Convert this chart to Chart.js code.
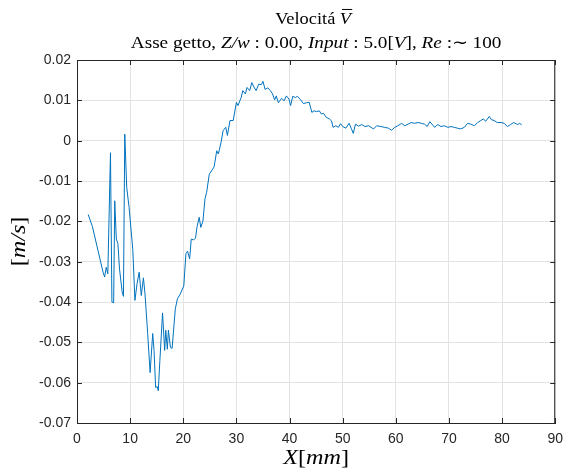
<!DOCTYPE html>
<html>
<head>
<meta charset="utf-8">
<script src="https://cdn.jsdelivr.net/npm/chart.js@4.4.0/dist/chart.umd.min.js"></script>
<style>
  body { margin: 0; background: #fff; }
  #wrap { width: 571px; height: 470px; }
</style>
</head>
<body>
<div id="wrap"><canvas id="chart"></canvas></div>
<script>
// X position along the jet axis [mm]
const xMm = [
    2.1, 2.9, 4.9, 5.2, 5.5, 5.8, 6.3, 6.57, 6.9, 7.1, 7.4, 7.7, 8.0, 8.5, 8.74, 8.99, 9.36, 9.8,
    10.5, 10.9, 11.3, 11.7, 12.1, 12.5, 12.8, 13.3, 13.76, 14.25, 14.5, 14.8, 15.1, 15.3, 15.6,
    16.1, 16.5, 16.7, 17.0, 17.2, 17.6, 17.9, 18.5, 18.9, 19.4, 20.1, 20.5, 20.8, 21.2, 21.5,
    21.9, 22.3, 22.6, 23.0, 23.3, 23.7, 24.1, 24.4, 24.9, 25.3, 25.8, 26.3, 26.6, 27.1, 27.5,
    28.0, 28.3, 28.8, 29.4, 30.0, 30.3, 30.9, 31.2, 31.7, 32.0, 32.5, 32.9, 33.3, 33.7, 34.2,
    34.7, 35.0, 35.4, 35.9, 36.4, 36.8, 37.2, 37.5, 37.9, 38.5, 39.0, 39.4, 39.9, 40.2, 40.6,
    41.1, 41.5, 42.1, 42.6, 43.2, 43.7, 44.2, 44.6, 45.1, 45.6, 46.0, 46.4, 46.9, 47.5, 47.9,
    48.2, 48.7, 49.2, 49.6, 50.0, 50.6, 51.2, 51.6, 52.0, 52.4, 53.0, 53.6, 54.2, 54.9, 55.8,
    56.4, 57.2, 57.9, 58.6, 59.2, 59.8, 60.4, 61.1, 61.7, 62.3, 62.9, 63.5, 64.2, 64.8, 65.4,
    65.9, 66.4, 66.8, 67.3, 67.9, 68.5, 69.1, 69.8, 70.4, 71.0, 71.6, 72.2, 72.9, 73.5, 74.1,
    74.8, 75.4, 76.0, 76.5, 76.9, 77.6, 78.0, 78.5, 79.1, 79.8, 80.4, 81.0, 81.6, 82.2, 82.9,
    83.3, 83.7
];
// mean velocity [m/s]
const vel = [
    -0.0183, -0.0213, -0.0326, -0.0338, -0.0314, -0.0330, -0.0030, -0.0400, -0.0402, -0.0149,
    -0.0244, -0.0255, -0.0318, -0.0375, -0.0386, 0.0016, -0.0116, -0.0165,
    -0.0270, -0.0396, -0.0355, -0.0326, -0.0384, -0.0340, -0.0380, -0.0478, -0.0575, -0.0478,
    -0.0520, -0.0612, -0.0610, -0.0620, -0.0545,
    -0.0427, -0.0520, -0.0470, -0.0517, -0.0470, -0.0513, -0.0515, -0.0417, -0.0392, -0.0381,
    -0.0360, -0.0280, -0.0274, -0.0293, -0.0244,
    -0.0246, -0.0242, -0.0213, -0.0190, -0.0215, -0.0199, -0.0143, -0.0128, -0.0083, -0.0075,
    -0.0065, -0.0025, -0.0033, -0.0005, 0.0025,
    0.0033, 0.0013, 0.0050, 0.0050, 0.0095, 0.0087, 0.0107, 0.0124, 0.0116, 0.0132, 0.0124,
    0.0144, 0.0133, 0.0124, 0.0140,
    0.0139, 0.0147, 0.0127, 0.0131, 0.0124, 0.0116, 0.0101, 0.0111, 0.0094, 0.0105, 0.0099,
    0.0111, 0.0103, 0.0087, 0.0110,
    0.0107, 0.0110, 0.0101, 0.0092, 0.0094, 0.0095, 0.0070, 0.0074, 0.0072, 0.0074, 0.0066,
    0.0068, 0.0058, 0.0054, 0.0049,
    0.0033, 0.0037, 0.0033, 0.0042, 0.0035, 0.0031, 0.0043, 0.0031, 0.0018, 0.0041, 0.0036,
    0.0040, 0.0035, 0.0037, 0.0029,
    0.0037, 0.0035, 0.0033, 0.0031, 0.0026, 0.0033, 0.0037, 0.0043, 0.0037, 0.0041, 0.0045,
    0.0043, 0.0045, 0.0043, 0.0041,
    0.0035, 0.0047, 0.0041, 0.0033, 0.0040, 0.0035, 0.0037, 0.0033, 0.0035, 0.0033, 0.0031,
    0.0029, 0.0033, 0.0043, 0.0041,
    0.0037, 0.0045, 0.0050, 0.0054, 0.0048, 0.0060, 0.0052, 0.0050, 0.0045, 0.0045, 0.0043,
    0.0035, 0.0040, 0.0045, 0.0040,
    0.0043, 0.0039
];

const xTicks = [0, 10, 20, 30, 40, 50, 60, 70, 80, 90];
const yTicks = [-0.07, -0.06, -0.05, -0.04, -0.03, -0.02, -0.01, 0, 0.01, 0.02];
const yTickLabels = ['-0.07', '-0.06', '-0.05', '-0.04', '-0.03', '-0.02', '-0.01', '0', '0.01', '0.02'];

const titleLine1 = [{ t: 'Velocitá ' }, { t: 'V', i: true, bar: true }];
const titleLine2 = [
    { t: 'Asse getto, ' }, { t: 'Z/w', i: true }, { t: ' : 0.00, ' },
    { t: 'Input', i: true }, { t: ' : 5.0[' }, { t: 'V', i: true }, { t: '], ' },
    { t: 'Re', i: true }, { t: ' :∼ 100' }
];
const xLabel = [{ t: 'X', i: true }, { t: '[' }, { t: 'mm', i: true }, { t: ']' }];
const yLabel = [{ t: '[' }, { t: 'm/s', i: true }, { t: ']' }];

const axisColor = '#262626';
const gridColor = '#e3e3e3';

// draws a line of mixed upright / italic text, centred on (x, y)
function drawRich(ctx, segs, x, y, size, sx, rotate) {
    const font = s => (s.i ? 'italic ' : '') + size + 'px "Liberation Serif", serif';
    ctx.save();
    ctx.translate(x, y);
    if (rotate) ctx.rotate(-Math.PI / 2);
    ctx.scale(sx, 1);
    ctx.textBaseline = 'middle';
    ctx.textAlign = 'left';
    ctx.fillStyle = '#000';
    let total = 0;
    const widths = segs.map(s => {
        ctx.font = font(s);
        const w = ctx.measureText(s.t).width;
        total += w;
        return w;
    });
    let cx = -total / 2;
    segs.forEach((s, k) => {
        ctx.font = font(s);
        ctx.fillText(s.t, cx, 0);
        if (s.bar) {
            ctx.strokeStyle = '#000';
            ctx.lineWidth = 1;
            ctx.beginPath();
            ctx.moveTo(cx + 2, -size * 0.62);
            ctx.lineTo(cx + widths[k] + 1, -size * 0.62);
            ctx.stroke();
        }
        cx += widths[k];
    });
    ctx.restore();
}

const matlabFrame = {
    id: 'matlabFrame',
    afterDatasetsDraw(chart) {
        const { ctx, chartArea: a, scales } = chart;
        ctx.save();
        ctx.strokeStyle = axisColor;
        ctx.lineWidth = 1;
        ctx.beginPath();
        // box on top and right
        ctx.moveTo(a.left, a.top + 0.5);
        ctx.lineTo(a.right, a.top + 0.5);
        ctx.moveTo(a.right - 0.5, a.top);
        ctx.lineTo(a.right - 0.5, a.bottom);
        // inward ticks
        const tl = 5;
        xTicks.forEach(v => {
            const px = Math.round(scales.x.getPixelForValue(v)) + 0.5;
            ctx.moveTo(px, a.bottom); ctx.lineTo(px, a.bottom - tl);
            ctx.moveTo(px, a.top); ctx.lineTo(px, a.top + tl);
        });
        yTicks.forEach(v => {
            const py = Math.round(scales.y.getPixelForValue(v)) + 0.5;
            ctx.moveTo(a.left, py); ctx.lineTo(a.left + tl, py);
            ctx.moveTo(a.right, py); ctx.lineTo(a.right - tl, py);
        });
        ctx.stroke();
        ctx.restore();

        const mid = (a.left + a.right) / 2;
        drawRich(ctx, titleLine1, mid - 3, 20, 17, 1.08);
        drawRich(ctx, titleLine2, mid, 44, 17, 1.13);
        drawRich(ctx, xLabel, mid, 458, 21, 1.15);
        drawRich(ctx, yLabel, 19, (a.top + a.bottom) / 2, 21, 1.15, true);
    }
};

new Chart(document.getElementById('chart'), {
    type: 'line',
    data: {
        datasets: [{
            label: 'V',
            data: xMm.map((x, k) => ({ x: x, y: vel[k] })),
            borderColor: '#0072BD',
            borderWidth: 1,
            pointRadius: 0,
            tension: 0,
            fill: false
        }]
    },
    options: {
        responsive: true,
        maintainAspectRatio: false,
        animation: false,
        layout: {
            padding: { top: 60, right: 11, left: 0, bottom: 0 }
        },
        plugins: {
            legend: { display: false },
            tooltip: { enabled: false }
        },
        scales: {
            x: {
                type: 'linear',
                min: 0,
                max: 90,
                afterBuildTicks: s => { s.ticks = xTicks.map(v => ({ value: v })); },
                afterFit: s => { s.height = 47; },
                grid: { color: gridColor, drawTicks: false },
                border: { color: axisColor, width: 1 },
                ticks: {
                    padding: 8,
                    color: axisColor,
                    font: { family: '"Liberation Sans", Arial, sans-serif', size: 14 },
                    maxRotation: 0
                }
            },
            y: {
                type: 'linear',
                min: -0.07,
                max: 0.02,
                afterBuildTicks: s => { s.ticks = yTicks.map(v => ({ value: v })); },
                afterFit: s => { s.width = 77; },
                grid: { color: gridColor, drawTicks: false },
                border: { color: axisColor, width: 1 },
                ticks: {
                    padding: 6,
                    color: axisColor,
                    font: { family: '"Liberation Sans", Arial, sans-serif', size: 14 },
                    callback: (v, i) => yTickLabels[i]
                }
            }
        }
    },
    plugins: [matlabFrame]
});
</script>
</body>
</html>
